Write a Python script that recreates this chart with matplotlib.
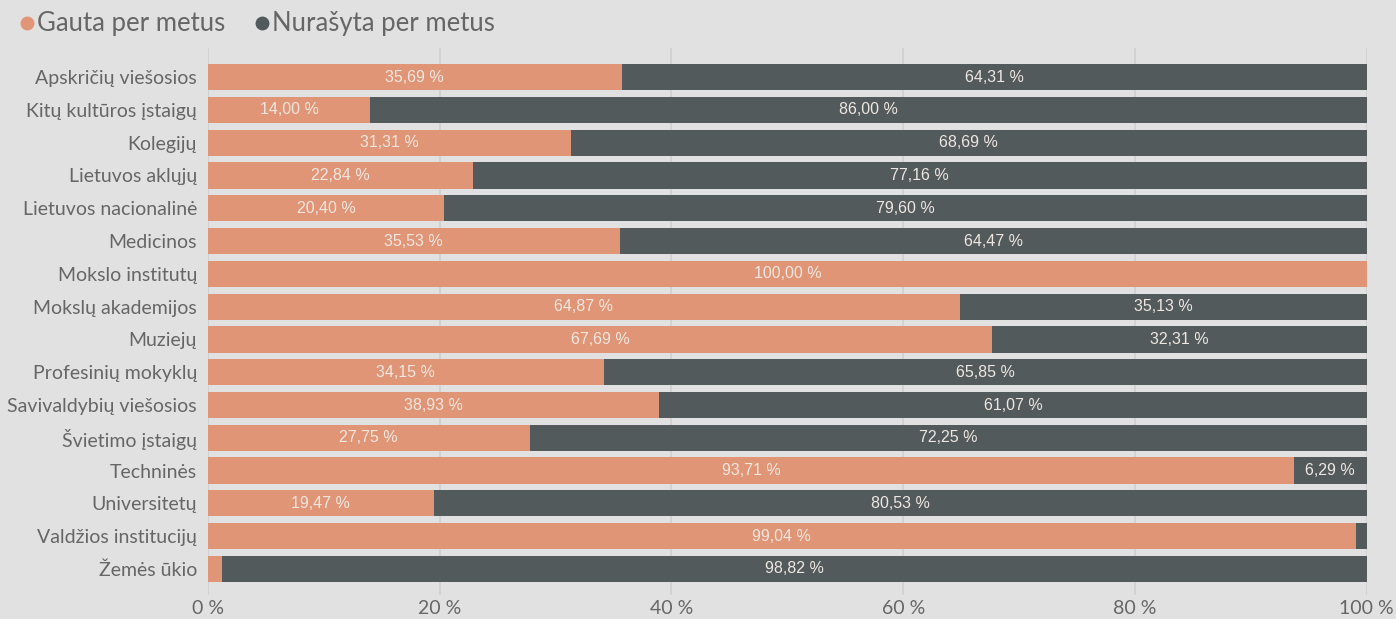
import numpy as np
import matplotlib.pyplot as plt
from matplotlib.lines import Line2D

# duomenys
categories = ['Apskričių viešosios', 'Kitų kultūros įstaigų', 'Kolegijų', 'Lietuvos aklųjų',
              'Lietuvos nacionalinė', 'Medicinos', 'Mokslo institutų', 'Mokslų akademijos',
              'Muziejų', 'Profesinių mokyklų', 'Savivaldybių viešosios', 'Švietimo įstaigų',
              'Techninės', 'Universitetų', 'Valdžios institucijų', 'Žemės ūkio']
gauta = [35.69, 14.00, 31.31, 22.84, 20.40, 35.53, 100.00, 64.87,
         67.69, 34.15, 38.93, 27.75, 93.71, 19.47, 99.04, 1.18]
nurasyta = [64.31, 86.00, 68.69, 77.16, 79.60, 64.47, 0.00, 35.13,
            32.31, 65.85, 61.07, 72.25, 6.29, 80.53, 0.96, 98.82]
xticks = [0, 20, 40, 60, 80, 100]
series = ['Gauta per metus', 'Nurašyta per metus']

bg = '#e1e1e1'
c_gauta = '#e09676'
c_nur = '#535a5c'
txt = '#666666'

plt.rcParams['font.family'] = ['Lato', 'DejaVu Sans']

W, H = 1396, 619
fig = plt.figure(figsize=(W / 100, H / 100), dpi=100, facecolor=bg)
ax = fig.add_axes([0.149, 0.039, 0.830, 0.883], facecolor=bg)

y = np.arange(len(categories))
ax.barh(y, gauta, height=0.8, color=c_gauta, zorder=2)
ax.barh(y, nurasyta, left=gauta, height=0.8, color=c_nur, zorder=2)

# reikšmių etiketės
for i in range(len(categories)):
    for start, val in [(0, gauta[i]), (gauta[i], nurasyta[i])]:
        if val >= 5:
            ax.text(start + val / 2, y[i], f'{val:.2f} %'.replace('.', ','),
                    ha='center', va='center', color='#eee6e1', fontsize=11.5,
                    family=['Liberation Sans'], zorder=3)

ax.set_xlim(0, 100)
ax.set_ylim(len(categories) - 1 + 0.79, -0.88)
ax.set_yticks(y)
ax.set_yticklabels(categories)
ax.set_xticks(xticks)
ax.set_xticklabels([f'{t} %' for t in xticks])
ax.tick_params(axis='both', length=0, colors=txt, labelsize=14)
ax.tick_params(axis='y', pad=8)
ax.tick_params(axis='x', pad=4)
ax.grid(axis='x', color='#cfcfcf', linewidth=1.2, zorder=0)
for s in ax.spines.values():
    s.set_visible(False)

# legenda viršuje
ly = 1 - 24 / H
for name, col, mx, tx in [(series[0], c_gauta, 27, 37), (series[1], c_nur, 262, 272)]:
    fig.add_artist(Line2D([mx / W], [ly + 0.002], marker='o', linestyle='', color=col,
                          markersize=9, transform=fig.transFigure))
    fig.text(tx / W, ly, name, ha='left', va='center', fontsize=18.5, color=txt)

fig.savefig('out.png', dpi=100, facecolor=bg)
